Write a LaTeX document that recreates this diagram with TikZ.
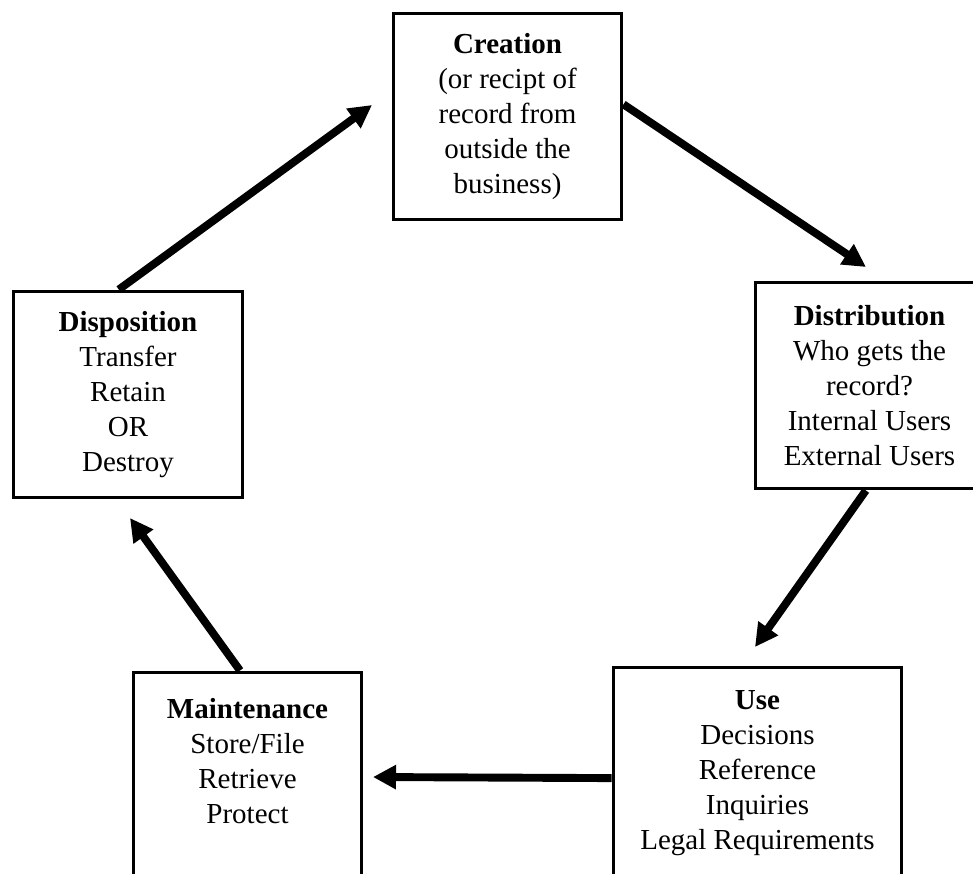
\documentclass[tikz,border=0pt]{standalone}
\usepackage{fontspec}
\setmainfont{Liberation Serif}
\usetikzlibrary{arrows.meta}
\tikzset{
  stage/.style={draw, line width=1.7pt, align=center, minimum width=4.58cm,
    minimum height=4.14cm, font=\fontsize{16.5}{19.9}\selectfont},
  flow/.style={line width=4.5pt, -{Triangle[length=0.46cm,width=0.46cm]}}
}
\begin{document}
\begin{tikzpicture}[x=0.02cm, y=-0.02cm]
    \useasboundingbox[fill=white] (0,0) rectangle (973,873);
    \node[stage] (creation) at (507.5,116.5) {\textbf{Creation}\\(or recipt of\\record from\\outside the\\business)};
    \node[stage] (distr) at (869.5,385.5) {\textbf{Distribution}\\Who gets the\\record?\\Internal Users\\External Users};
    \node[stage, minimum width=5.78cm, minimum height=4.24cm] (use) at (757.5,773) {\textbf{Use}\\Decisions\\Reference\\Inquiries\\Legal Requirements};
    \node[stage, minimum height=4.24cm] (maint) at (247.5,778) {\textbf{Maintenance}\\Store/File\\Retrieve\\Protect\\~};
    \node[stage, minimum width=4.6cm] (disp) at (128,394.5) {\textbf{Disposition}\\Transfer\\Retain\\OR\\Destroy};
    \coordinate (tocreation) at (372,105);
    \coordinate (todistr) at (866,267);
    \coordinate (touse) at (755,647);
    \coordinate (tomaint) at (373,777);
    \coordinate (todisp) at (130,518);
    \draw[flow] (disp.95) -- (tocreation);
    \draw[flow] (creation.6.7) -- (todistr);
    \draw[flow] (distr.268) -- (touse);
    \draw[flow] (use.182) -- (tomaint);
    \draw[flow] (maint.94) -- (todisp);
\end{tikzpicture}
\end{document}
